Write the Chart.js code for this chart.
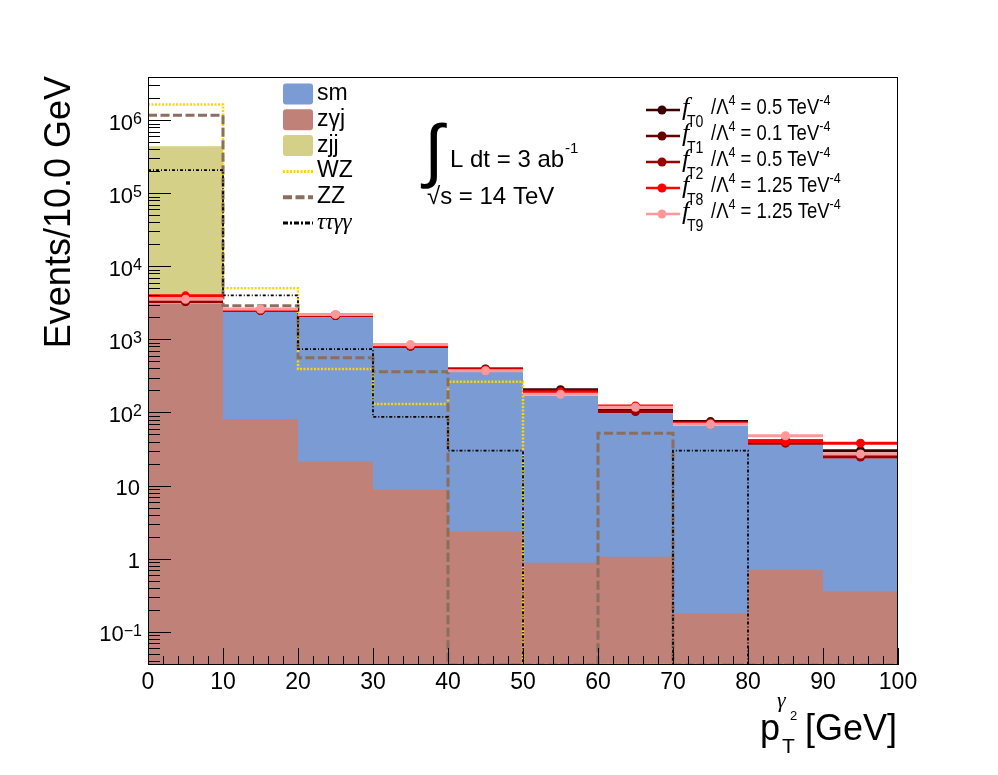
<!DOCTYPE html>
<html><head><meta charset="utf-8">
<script src="https://cdn.jsdelivr.net/npm/chart.js@4.4.1/dist/chart.umd.min.js"></script>
<style>html,body{margin:0;padding:0;background:#fff}canvas{display:block}</style>
</head><body>
<canvas id="c" width="998" height="775"></canvas>
<script>
// ---- data ----
const binEdges = [0,10,20,30,40,50,60,70,80,90,100];
const smVals   = [3400, 2450, 2030, 790, 358, 169, 100, 65.8, 36.6, 23.5];
const zgjVals  = [3100, 81, 21.1, 8.7, 2.33, 0.88, 1.06, 0.178, 0.70, 0.355];
const zjjVals  = [440000, 0, 0, 0, 0, 0, 0, 0, 0, 0];
const wzVals   = [1640000, 5000, 393, 131, 264, 0, 0, 0, 0, 0];
const zzVals   = [1170000, 2880, 560, 360, 0, 0, 51.8, 0, 0, 0];
const ttggVals = [207000, 4000, 736, 87, 30, 0, 0, 30, 0, 0];
const fT0Vals  = [3400, 2500, 2120, 810, 395, 205, 107, 75, 40, 30];
const fT1Vals  = [3300, 2500, 2120, 810, 390, 198, 105, 73, 41, 25];
const fT2Vals  = [3300, 2500, 2120, 810, 385, 190, 103, 72, 38, 24.5];
const fT8Vals  = [3950, 2520, 2150, 820, 380, 190, 123, 71, 40, 38];
const fT9Vals  = [3550, 2600, 2200, 850, 372, 177, 118, 69, 48, 27];
const xTickValues = [0,10,20,30,40,50,60,70,80,90,100];
const yTickValues = [0.1, 1, 10, 100, 1e3, 1e4, 1e5, 1e6];
const yTickBase   = ['10','1','10','10','10','10','10','10'];
const yTickSup    = ['\u22121','','','2','3','4','5','6'];
const sigSub   = ['T0','T1','T2','T8','T9'];
const sigCoef  = ['0.5','0.1','0.5','1.25','1.25'];
const Y_MIN = 0.035, Y_MAX = 3.9e6;

// ---- styles ----
const SANS = '"Liberation Sans", Arial, Helvetica, sans-serif';
const SERIF = '"Liberation Serif", "Times New Roman", serif';
const C_SM = 'rgb(122,155,211)', C_ZGJ = 'rgb(191,129,120)', C_ZJJ = 'rgb(212,208,136)';
const C_WZ = 'rgb(255,214,0)', C_ZZ = 'rgb(140,110,95)', C_TT = '#000';
const sigColors = ['#3a0000','#660000','#990000','#ff0000','#ff9999'];
const sigVals = [fT0Vals, fT1Vals, fT2Vals, fT8Vals, fT9Vals];

const clampV = v => (v > 0 ? Math.max(v, Y_MIN) : Y_MIN);
function stepPts(vals){
  const pts = [];
  for (let i = 0; i < binEdges.length; i++){
    const v = vals[Math.min(i, vals.length - 1)];
    pts.push({x: binEdges[i], y: clampV(v)});
  }
  return pts;
}
function segPts(vals){
  const pts = [];
  vals.forEach((v, i) => {
    pts.push({x: binEdges[i], y: v});
    pts.push({x: binEdges[i+1], y: v});
    pts.push({x: binEdges[i+1], y: null});
  });
  return pts;
}
function ctrPts(vals){
  return vals.map((v, i) => ({x: (binEdges[i] + binEdges[i+1]) / 2, y: v}));
}
const TRANSP = 'rgba(0,0,0,0)';
const datasets = [
  {label:'sm', data: stepPts(smVals), stepped:true, fill:'start', backgroundColor:C_SM, borderColor:TRANSP, borderWidth:0, pointRadius:0, order:40},
  {label:'zjj', data: stepPts(zjjVals), stepped:true, fill:'start', backgroundColor:C_ZJJ, borderColor:TRANSP, borderWidth:0, pointRadius:0, order:39},
  {label:'zgj', data: stepPts(zgjVals), stepped:true, fill:'start', backgroundColor:C_ZGJ, borderColor:TRANSP, borderWidth:0, pointRadius:0, order:38},
  {label:'WZ', data: stepPts(wzVals), stepped:true, fill:false, borderColor:C_WZ, borderWidth:2.5, borderDash:[2,1.5], pointRadius:0, order:37},
  {label:'ZZ', data: stepPts(zzVals), stepped:true, fill:false, borderColor:C_ZZ, borderWidth:3, borderDash:[9,3.5], pointRadius:0, order:36},
  {label:'ttgg', data: stepPts(ttggVals), stepped:true, fill:false, borderColor:C_TT, borderWidth:1.8, borderDash:[3,2,1,2], pointRadius:0, order:35},
];
sigVals.forEach((vals, k) => {
  datasets.push({label:'f'+sigSub[k]+' line', data: segPts(vals), fill:false, borderColor:sigColors[k], borderWidth:3, pointRadius:0, spanGaps:false, order:30 - 2*k});
  datasets.push({label:'f'+sigSub[k], data: ctrPts(vals), showLine:false, pointRadius:4.5, pointBackgroundColor:sigColors[k], pointBorderWidth:0, pointBorderColor:sigColors[k], order:29 - 2*k});
});

function drawSupText(ctx, parts, x, baseY){
  let cx = x;
  parts.forEach(p => {
    ctx.font = p[1] + 'px ' + SANS;
    ctx.fillText(p[0], cx, baseY + p[2]);
    cx += ctx.measureText(p[0]).width;
  });
  return cx;
}

const framePlugin = {
  id: 'frameTicks',
  afterDatasetsDraw(chart){
    const {ctx, chartArea:a, scales:{x, y}} = chart;
    ctx.save();
    ctx.strokeStyle = '#000'; ctx.lineWidth = 1;
    ctx.beginPath();
    for (let e = -2; e <= 6; e++){
      for (let m = 1; m <= 9; m++){
        const v = m * Math.pow(10, e);
        if (v < Y_MIN || v > Y_MAX) continue;
        const py = Math.round(y.getPixelForValue(v)) + 0.5;
        const len = m === 1 ? 23 : 12;
        ctx.moveTo(a.left, py); ctx.lineTo(a.left + len, py);
      }
    }
    for (let v = 0; v <= 100; v += 2){
      const px = Math.round(x.getPixelForValue(v)) + 0.5;
      const len = v % 10 === 0 ? 17 : 9;
      ctx.moveTo(px, a.bottom); ctx.lineTo(px, a.bottom - len);
    }
    ctx.stroke();
    ctx.strokeRect(a.left + 0.5, a.top + 0.5, a.right - a.left - 1, a.bottom - a.top - 1);
    ctx.restore();
  },
  afterDraw(chart){
    const {ctx, scales:{y}} = chart;
    ctx.save();
    ctx.fillStyle = '#000';
    ctx.textBaseline = 'alphabetic';
    // y tick labels
    yTickValues.forEach((v, i) => {
      const py = y.getPixelForValue(v);
      if (yTickSup[i]){
        ctx.font = '16px ' + SANS;
        const sw = ctx.measureText(yTickSup[i]).width;
        ctx.textAlign = 'left';
        ctx.fillText(yTickSup[i], 142 - sw, py + 4);
        ctx.font = '22px ' + SANS;
        ctx.textAlign = 'right';
        ctx.fillText(yTickBase[i], 142 - sw, py + 9.5);
      } else {
        ctx.font = '22px ' + SANS;
        ctx.textAlign = 'right';
        ctx.fillText(yTickBase[i], 140, py + 9.5);
      }
    });
    // y title
    ctx.save();
    ctx.translate(70, 76);
    ctx.rotate(-Math.PI / 2);
    ctx.textAlign = 'right';
    ctx.font = '36px ' + SANS;
    ctx.fillText('Events/10.0 GeV', 0, 0);
    ctx.restore();
    // x title
    ctx.textAlign = 'right';
    ctx.font = '36px ' + SANS;
    ctx.fillText('[GeV]', 897, 740);
    ctx.textAlign = 'left';
    ctx.fillText('p', 760, 740);
    ctx.font = '21px ' + SANS;
    ctx.fillText('T', 782, 753);
    ctx.font = 'italic 22px ' + SERIF;
    ctx.fillText('\u03b3', 777, 707);
    ctx.font = '13px ' + SANS;
    ctx.fillText('2', 790, 720);
    // lumi text
    ctx.font = '70px ' + SANS;
    ctx.fillText('\u222b', 424, 174);
    ctx.font = '24px ' + SANS;
    ctx.fillText('L dt = 3 ab', 450, 167);
    const w1 = ctx.measureText('L dt = 3 ab').width;
    ctx.font = '15px ' + SANS;
    ctx.fillText('-1', 450 + w1 + 1, 153);
    ctx.font = '24px ' + SANS;
    ctx.fillText('\u221as = 14 TeV', 427, 204);
    // left legend
    const rows = [94, 119.8, 145.6, 171.4, 197.2, 223];
    const boxX = 283, boxW = 30, boxH = 21;
    [[C_SM,'sm'],[C_ZGJ,'z\u03b3j'],[C_ZJJ,'zjj']].forEach((e, i) => {
      ctx.fillStyle = e[0];
      ctx.beginPath();
      if (ctx.roundRect) ctx.roundRect(boxX, rows[i] - boxH/2, boxW, boxH, 3); else ctx.rect(boxX, rows[i] - boxH/2, boxW, boxH);
      ctx.fill();
      ctx.fillStyle = '#000';
      ctx.font = '23px ' + SANS;
      ctx.fillText(e[1], 317, rows[i] + 6);
    });
    const lineEntries = [[C_WZ, 3, [2,1.5], 'WZ', SANS, ''], [C_ZZ, 4, [9,3.5], 'ZZ', SANS, ''], [C_TT, 3, [5,2,2,2], '\u03c4\u03c4\u03b3\u03b3', SERIF, 'italic']];
    lineEntries.forEach((e, j) => {
      const ry = rows[3 + j];
      ctx.save();
      ctx.strokeStyle = e[0]; ctx.lineWidth = e[1]; ctx.setLineDash(e[2]);
      ctx.beginPath(); ctx.moveTo(boxX, ry); ctx.lineTo(boxX + boxW, ry); ctx.stroke();
      ctx.restore();
      ctx.fillStyle = '#000';
      ctx.font = e[5] + ' 23px ' + e[4];
      ctx.fillText(e[3], 317, ry + 6);
    });
    // right legend
    sigColors.forEach((col, k) => {
      const y0 = 110 + 26 * k;
      ctx.strokeStyle = col; ctx.lineWidth = 2.5; ctx.setLineDash([]);
      ctx.beginPath(); ctx.moveTo(646, y0); ctx.lineTo(680, y0); ctx.stroke();
      ctx.fillStyle = col;
      ctx.beginPath(); ctx.arc(662, y0, 4.5, 0, Math.PI * 2); ctx.fill();
      ctx.fillStyle = '#000';
      ctx.font = 'italic 26px ' + SERIF;
      ctx.fillText('f', 682, y0 + 5);
      ctx.save();
      ctx.translate(687, 0);
      ctx.scale(0.88, 1);
      ctx.font = '16px ' + SANS;
      ctx.fillText(sigSub[k], 0, y0 + 17);
      ctx.restore();
      ctx.save();
      ctx.translate(711, 0);
      ctx.scale(0.84, 1);
      drawSupText(ctx, [
        ['/\u039b', 22, 4],
        ['4', 15, -5.5],
        [' = ' + sigCoef[k] + ' TeV', 22, 4],
        ['-4', 15, -5.5]
      ], 0, y0);
      ctx.restore();
    });
    ctx.restore();
  }
};

new Chart(document.getElementById('c'), {
  type: 'line',
  data: { datasets },
  options: {
    responsive: false,
    animation: false,
    events: [],
    layout: { padding: { left: 0, right: 100, top: 77, bottom: 0 } },
    plugins: { legend: { display: false }, tooltip: { enabled: false } },
    scales: {
      x: {
        type: 'linear', min: 0, max: 100,
        grid: { display: false, drawTicks: false },
        border: { display: false },
        afterBuildTicks(s){ s.ticks = xTickValues.map(v => ({value: v})); },
        ticks: { font: { family: SANS, size: 23 }, color: '#000', padding: 4, maxRotation: 0, autoSkip: false },
        afterFit(s){ s.height = 110; }
      },
      y: {
        type: 'logarithmic', min: Y_MIN, max: Y_MAX,
        grid: { display: false, drawTicks: false },
        border: { display: false },
        ticks: { display: false },
        afterFit(s){ s.width = 148; }
      }
    }
  },
  plugins: [framePlugin]
});
</script>
</body></html>
